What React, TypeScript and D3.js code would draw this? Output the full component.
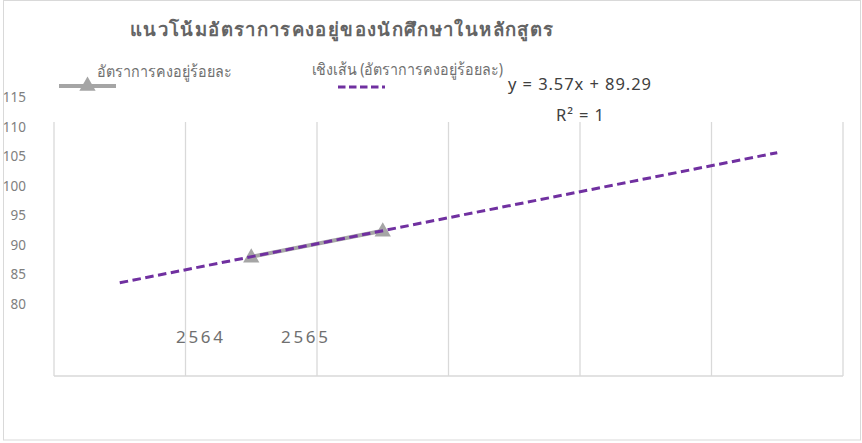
import { useEffect, useRef } from "react";
import * as d3 from "d3";

// chart data
const YEARS = ["2564", "2565"];
const RETENTION = [92.86, 96.43];
// Excel x position of each year (1-based)
const YEAR_X = [1, 2];
const TREND = { slope: 3.57, intercept: 89.29, from: 0, to: 5 };
const Y_TICKS = [115, 110, 105, 100, 95, 90, 85, 80];

const TITLE = "แนวโน้มอัตราการคงอยู่ของนักศึกษาในหลักสูตร";
const SERIES_NAME = "อัตราการคงอยู่ร้อยละ";
const TREND_NAME = "เชิงเส้น (อัตราการคงอยู่ร้อยละ)";

const W = 862;
const H = 443;
const plot = { left: 54, right: 843, top: 122, bottom: 376 };
const GRAY = "#a5a5a5";
const PURPLE = "#7030a0";
const TEXT = "#707070";
const FONT = "'Noto Sans', 'DejaVu Sans', sans-serif";

export default function App() {
  const ref = useRef<SVGSVGElement>(null);

  useEffect(() => {
    const svg = d3.select(ref.current);
    svg.selectAll("*").remove();

    // outer chart frame
    svg
      .append("rect")
      .attr("x", 3.5)
      .attr("y", 0.5)
      .attr("width", 857)
      .attr("height", 439.5)
      .attr("fill", "#fff")
      .attr("stroke", "#d9d9d9");

    // x in trendline units, 6 slots
    const x = d3.scaleLinear().domain([-0.5, 5.5]).range([plot.left, plot.right]);
    const y = d3.scaleLinear().domain([76.5, 111.35]).range([plot.bottom, plot.top]);
    // tick labels sit on their own scale in the reference
    const yLabel = d3.scaleLinear().domain([80, 115]).range([303.5, 97.3]);
    const xLabel = d3.scalePoint().domain(YEARS).range([199.5, 304.5]);

    // vertical gridlines
    svg
      .append("g")
      .selectAll("line")
      .data(d3.range(-0.5, 6, 1))
      .join("line")
      .attr("x1", (d) => x(d))
      .attr("x2", (d) => x(d))
      .attr("y1", plot.top)
      .attr("y2", plot.bottom)
      .attr("stroke", "#d9d9d9")
      .attr("stroke-width", 1.3);

    svg
      .append("line")
      .attr("x1", plot.left)
      .attr("x2", plot.right)
      .attr("y1", plot.bottom)
      .attr("y2", plot.bottom)
      .attr("stroke", "#d9d9d9")
      .attr("stroke-width", 1.3);

    // y tick labels
    svg
      .append("g")
      .selectAll("text")
      .data(Y_TICKS)
      .join("text")
      .attr("x", 26)
      .attr("y", (d) => yLabel(d) + 5)
      .attr("text-anchor", "end")
      .attr("font-family", FONT)
      .attr("font-size", 13.5)
      .attr("fill", "#808080")
      .text((d) => d);

    // x labels
    svg
      .append("g")
      .selectAll("text")
      .data(YEARS)
      .join("text")
      .attr("x", (d) => xLabel(d)! - 23.5)
      .attr("y", 343)
      .attr("textLength", 47)
      .attr("lengthAdjust", "spacing")
      .attr("font-family", FONT)
      .attr("font-size", 17)
      .attr("fill", TEXT)
      .text((d) => d);

    // series line
    const pts = RETENTION.map((v, i) => [x(YEAR_X[i]), y(v)] as [number, number]);
    svg
      .append("path")
      .attr("d", d3.line()(pts))
      .attr("fill", "none")
      .attr("stroke", GRAY)
      .attr("stroke-width", 4);

    const tri = d3.symbol().type(d3.symbolTriangle).size(115);
    svg
      .append("g")
      .selectAll("path")
      .data(pts)
      .join("path")
      .attr("transform", (d) => `translate(${d[0]},${d[1] + 1})`)
      .attr("d", tri())
      .attr("fill", GRAY);

    // linear trendline
    const trendPts = [TREND.from, TREND.to].map(
      (t) => [x(t), y(TREND.slope * t + TREND.intercept)] as [number, number]
    );
    svg
      .append("path")
      .attr("d", d3.line()(trendPts))
      .attr("fill", "none")
      .attr("stroke", PURPLE)
      .attr("stroke-width", 3)
      .attr("stroke-dasharray", "8.5 4.5");

    // title
    svg
      .append("text")
      .attr("x", 130)
      .attr("y", 36)
      .attr("textLength", 423)
      .attr("lengthAdjust", "spacing")
      .attr("font-family", FONT)
      .attr("font-size", 18.5)
      .attr("font-weight", "bold")
      .attr("fill", "#646464")
      .text(TITLE);

    // legend
    svg
      .append("line")
      .attr("x1", 59)
      .attr("x2", 116)
      .attr("y1", 86)
      .attr("y2", 86)
      .attr("stroke", GRAY)
      .attr("stroke-width", 4);
    svg
      .append("path")
      .attr("transform", "translate(87.5,86)")
      .attr("d", tri())
      .attr("fill", GRAY);
    svg
      .append("text")
      .attr("x", 97)
      .attr("y", 77)
      .attr("textLength", 135)
      .attr("lengthAdjust", "spacingAndGlyphs")
      .attr("font-family", FONT)
      .attr("font-size", 16)
      .attr("fill", TEXT)
      .text(SERIES_NAME);

    svg
      .append("line")
      .attr("x1", 338)
      .attr("x2", 385)
      .attr("y1", 87)
      .attr("y2", 87)
      .attr("stroke", PURPLE)
      .attr("stroke-width", 3)
      .attr("stroke-dasharray", "7.5 3.5");
    svg
      .append("text")
      .attr("x", 312)
      .attr("y", 75)
      .attr("textLength", 191)
      .attr("lengthAdjust", "spacingAndGlyphs")
      .attr("font-family", FONT)
      .attr("font-size", 16)
      .attr("fill", TEXT)
      .text(TREND_NAME);

    // trendline equation
    svg
      .append("text")
      .attr("x", 508)
      .attr("y", 90)
      .attr("textLength", 143)
      .attr("lengthAdjust", "spacing")
      .attr("font-family", FONT)
      .attr("font-size", 16.5)
      .attr("fill", "#404040")
      .text(`y = ${TREND.slope}x + ${TREND.intercept}`);
    svg
      .append("text")
      .attr("x", 556)
      .attr("y", 121)
      .attr("textLength", 48)
      .attr("lengthAdjust", "spacing")
      .attr("font-family", FONT)
      .attr("font-size", 16.5)
      .attr("fill", "#404040")
      .text("R² = 1");
  }, []);

  return (
    <svg
      ref={ref}
      width={W}
      height={H}
      style={{ position: "absolute", left: 0, top: 0, background: "#fff" }}
    />
  );
}
